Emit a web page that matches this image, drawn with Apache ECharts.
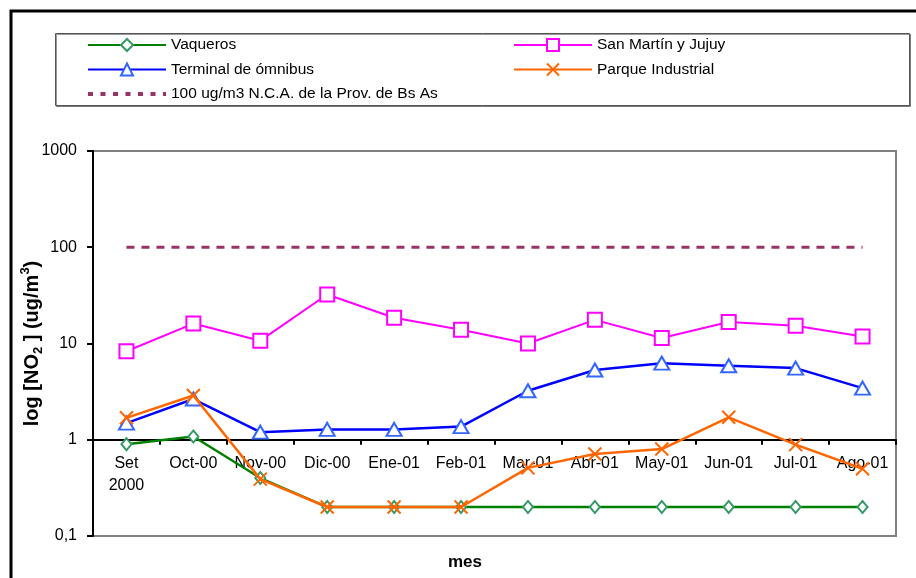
<!DOCTYPE html>
<html><head><meta charset="utf-8">
<script src="https://cdn.jsdelivr.net/npm/echarts@6/dist/echarts.min.js"></script>
<style>html,body{margin:0;padding:0;background:#fff}#c{width:916px;height:578px}</style>
</head><body><div id="c"></div>
<script>
const months = ['Set\n2000','Oct-00','Nov-00','Dic-00','Ene-01','Feb-01','Mar-01','Abr-01','May-01','Jun-01','Jul-01','Ago-01'];
const vaqueros = [0.9,1.08,0.4,0.2,0.2,0.2,0.2,0.2,0.2,0.2,0.2,0.2];
const sanMartin = [8.3,16.1,10.7,32.3,18.5,13.9,10.0,17.6,11.4,16.7,15.3,11.8];
const terminal = [1.49,2.65,1.2,1.28,1.28,1.37,3.23,5.3,6.25,5.87,5.55,3.44];
const parque = [1.69,2.88,0.39,0.2,0.2,0.2,0.51,0.71,0.8,1.71,0.89,0.5];
const nca = [100,100,100,100,100,100,100,100,100,100,100,100];
const yTickLabels = {'-1':'0,1','0':'1','1':'10','2':'100','3':'1000'};
const names = ['Vaqueros','San Martín y Jujuy','Terminal de ómnibus','Parque Industrial','100 ug/m3 N.C.A. de la Prov. de Bs As'];

const FONT = 'Liberation Sans';
const chart = echarts.init(document.getElementById('c'), null, {renderer:'canvas'});
const legendCommon = {
  orient:'vertical', itemWidth:78, itemHeight:15, itemGap:8.5, padding:0,
  textStyle:{fontFamily:FONT, fontSize:15.5, color:'#000'},
  inactiveColor:'#000', selectedMode:false
};
const ncaLegend = {name:names[4], itemStyle:{opacity:0}, lineStyle:{type:[5,7.5], width:4, color:'#993366'}};
chart.setOption({
  animation:false,
  backgroundColor:'#fff',
  textStyle:{fontFamily:FONT},
  graphic:[
    {type:'rect', shape:{x:11,y:11,width:1000,height:1000}, style:{fill:null, stroke:'#000', lineWidth:3}, z:-10},
    {type:'rect', shape:{x:55.5,y:33.5,width:854,height:72}, style:{fill:'#fff', stroke:'#555', lineWidth:1, shadowColor:'rgba(0,0,0,0.4)', shadowOffsetX:1, shadowOffsetY:1}, z:-5}
  ],
  title:{text:'mes', left:460, top:549, textAlign:'center', textStyle:{fontFamily:FONT, fontSize:17, fontWeight:'bold', color:'#000'}},
  legend:[
    Object.assign({}, legendCommon, {left:86, top:37, data:[names[0], names[2], ncaLegend]}),
    Object.assign({}, legendCommon, {left:513, top:37, data:[names[1], names[3]]})
  ],
  grid:{left:93, right:20, top:151, bottom:42, show:true, borderColor:'#808080', borderWidth:2, backgroundColor:'#fff', outerBoundsMode:'none', containLabel:false},
  xAxis:{type:'category', data:months, boundaryGap:true, position:'bottom', offset:-96.25,
    axisLine:{show:true, lineStyle:{color:'#000', width:2}},
    axisTick:{show:true, inside:false, length:5, lineStyle:{color:'#000', width:2}},
    axisLabel:{interval:0, fontFamily:FONT, fontSize:16, color:'#000', margin:13, lineHeight:22},
    splitLine:{show:false}
  },
  yAxis:{type:'log', logBase:10, min:0.1, max:1000,
    name:'{a|log [NO}{s|2}{a| ] (ug/m}{p|3}{a|)}', nameLocation:'middle', nameGap:48, nameRotate:90, nameMoveOverlap:false,
    nameTextStyle:{rich:{
      a:{fontFamily:FONT, fontSize:20, fontWeight:'bold', color:'#000', lineHeight:26, verticalAlign:'middle'},
      s:{fontFamily:FONT, fontSize:13, fontWeight:'bold', color:'#000', lineHeight:26, verticalAlign:'bottom', padding:[9,0,0,0]},
      p:{fontFamily:FONT, fontSize:13, fontWeight:'bold', color:'#000', lineHeight:26, verticalAlign:'top', padding:[0,0,9,0]}
    }},
    axisLine:{show:true, lineStyle:{color:'#000', width:2}},
    axisTick:{show:true, inside:false, length:6, lineStyle:{color:'#000', width:2}},
    minorTick:{show:false},
    axisLabel:{fontFamily:FONT, fontSize:16, color:'#000', margin:16,
      formatter:v=>{const k=String(Math.round(Math.log10(v))); return yTickLabels[k]!==undefined?yTickLabels[k]:'';}},
    splitLine:{show:false}
  },
  series:[
    {name:names[0], type:'line', data:vaqueros, symbol:'emptyDiamond', symbolSize:[10,12],
      itemStyle:{color:'#339966', borderColor:'#339966', borderWidth:2}, lineStyle:{color:'#008000', width:2.5}, z:2},
    {name:names[1], type:'line', data:sanMartin, symbol:'emptyRect', symbolSize:14,
      itemStyle:{color:'#FF00FF', borderColor:'#FF00FF', borderWidth:2}, lineStyle:{color:'#FF00FF', width:2}, z:3},
    {name:names[2], type:'line', data:terminal, symbol:'emptyTriangle', symbolSize:[15,13],
      itemStyle:{color:'#3366FF', borderColor:'#3366FF', borderWidth:2}, lineStyle:{color:'#0000FF', width:2.5}, z:4},
    {name:names[3], type:'line', data:parque, symbol:'path://M0,0L10,10M10,0L0,10', symbolSize:13,
      itemStyle:{color:'#FF6600', borderColor:'#FF6600', borderWidth:2}, lineStyle:{color:'#FF6600', width:2.5}, z:5},
    {name:names[4], type:'line', data:nca, symbol:'none',
      itemStyle:{color:'#993366'}, lineStyle:{color:'#993366', width:3, type:[8,7]}, z:1}
  ]
});
</script></body></html>
